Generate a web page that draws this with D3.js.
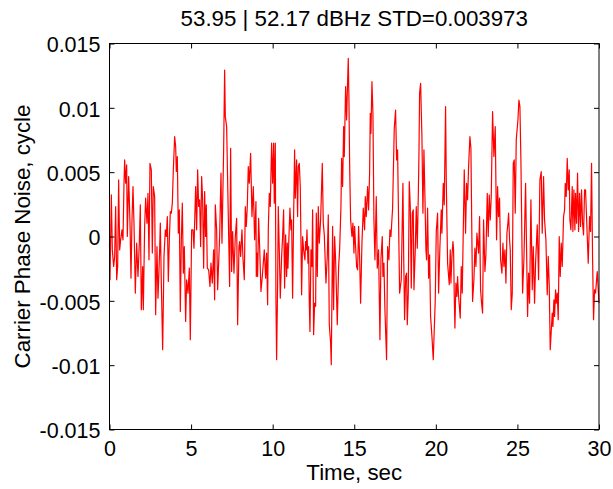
<!DOCTYPE html>
<html>
<head>
<meta charset="utf-8">
<script src="https://cdn.jsdelivr.net/npm/d3@7"></script>
<style>
  body { margin: 0; background: #fff; }
  svg text { font-family: "Liberation Sans", Arial, sans-serif; fill: #000; }
</style>
</head>
<body>
<svg id="chart" width="613" height="489"></svg>
<script>
// titolo e etichette
var titolo = "53.95 | 52.17 dBHz STD=0.003973";
var labelX = "Time, sec";
var labelY = "Carrier Phase Noise, cycle";

var xTicks = [0, 5, 10, 15, 20, 25, 30];
var yTicks = [-0.015, -0.01, -0.005, 0, 0.005, 0.01, 0.015];
var yTickLabels = ["-0.015", "-0.01", "-0.005", "0", "0.005", "0.01", "0.015"];

// tempi (sec)
var tempi = [
 0.000,0.031,0.112,0.173,0.255,0.316,0.378,0.439,0.500,0.561,0.623,0.684,0.766,0.827,0.888,0.929,0.990,1.052,1.092,1.174,
 1.256,1.317,1.378,1.440,1.501,1.582,1.664,1.746,1.827,1.889,1.950,2.032,2.073,2.154,2.215,2.297,2.358,2.420,2.481,2.563,
 2.624,2.685,2.767,2.828,2.910,2.971,
 3.013,3.074,3.115,3.176,3.258,3.340,3.422,3.483,3.544,3.605,3.667,3.728,3.789,3.850,3.912,3.993,4.055,4.095,4.157,4.218,
 4.279,4.340,4.402,4.463,4.524,4.585,4.667,4.728,4.810,4.892,4.953,5.035,5.116,5.178,5.218,5.280,5.341,5.402,5.463,5.525,
 5.586,5.647,5.708,5.770,5.831,5.892,5.933,5.994,
 6.076,6.158,6.219,6.301,6.383,6.444,6.485,6.566,6.628,6.689,6.750,6.832,6.893,6.995,7.056,7.097,7.179,7.281,7.363,7.424,
 7.485,7.547,7.628,7.710,7.792,7.853,7.935,7.975,8.037,8.118,8.180,8.261,8.323,8.384,8.445,8.506,8.568,8.649,8.731,8.813,
 8.894,8.976,
 8.997,9.038,9.078,9.140,9.201,9.283,9.364,9.426,9.487,9.568,9.630,9.691,9.732,9.793,9.854,9.936,9.997,10.059,10.099,10.161,
 10.201,10.242,10.304,10.344,10.406,10.467,10.549,10.610,10.671,10.732,10.794,10.855,10.896,10.937,10.998,11.059,11.120,11.161,11.222,11.284,
 11.345,11.386,11.468,11.529,11.570,11.631,11.692,11.774,11.835,11.896,11.978,
 12.020,12.061,12.102,12.163,12.204,12.245,12.286,12.347,12.408,12.449,12.510,12.571,12.633,12.674,12.735,12.796,12.857,12.939,13.041,13.102,
 13.164,13.204,13.266,13.347,13.409,13.470,13.552,13.592,13.674,13.735,13.797,13.858,13.960,14.042,14.103,14.185,14.225,14.287,14.348,14.389,
 14.471,14.532,14.573,14.634,14.675,14.716,14.777,14.859,14.920,14.981,
 15.022,15.083,15.145,15.206,15.267,15.328,15.390,15.471,15.553,15.635,15.676,15.737,15.818,15.880,15.941,15.982,16.023,16.084,16.145,16.206,
 16.268,16.349,16.411,16.492,16.574,16.635,16.717,16.758,16.819,16.880,16.982,17.044,17.125,17.187,17.248,17.350,17.452,17.534,17.595,17.656,
 17.779,17.881,17.983,
 18.025,18.086,18.148,18.209,18.250,18.311,18.372,18.434,18.495,18.556,18.617,18.658,18.740,18.801,18.862,18.924,18.964,19.005,19.067,19.148,
 19.209,19.271,19.332,19.393,19.434,19.495,19.557,19.618,19.679,19.761,19.842,19.965,20.026,20.108,20.169,20.251,20.333,20.373,20.455,20.516,
 20.598,20.639,20.721,20.823,20.884,20.925,20.986,
 21.048,21.088,21.129,21.170,21.231,21.293,21.333,21.395,21.497,21.558,21.619,21.742,21.823,21.885,21.946,22.007,22.089,22.150,22.252,22.334,
 22.395,22.457,22.518,22.620,22.681,22.742,22.804,22.865,22.926,23.008,23.069,23.151,23.212,23.273,23.335,23.396,23.478,23.559,23.641,23.723,
 23.784,23.845,23.906,23.968,
 24.051,24.112,24.173,24.234,24.296,24.357,24.418,24.459,24.520,24.561,24.622,24.684,24.745,24.806,24.867,24.929,25.031,25.092,25.153,25.214,
 25.317,25.398,25.439,25.500,25.562,25.623,25.684,25.745,25.827,25.909,25.970,26.052,26.113,26.215,26.297,26.378,26.460,26.521,26.603,26.664,
 26.746,26.828,26.889,26.950,27.011,
 27.134,27.175,27.236,27.277,27.338,27.379,27.441,27.502,27.563,27.624,27.686,27.747,27.828,27.890,27.931,27.992,28.053,28.114,28.176,28.216,
 28.278,28.359,28.400,28.462,28.523,28.564,28.625,28.686,28.747,28.809,28.870,28.931,28.992,29.054,29.115,29.176,29.340,29.421,29.483,29.544,
 29.605,29.666,29.728,29.789,29.891,30.000
];

// rumore di fase (cycle)
var rumore = [
 -0.00052,-0.00336,0.00324,-0.00104,-0.00233,-0.00155,0.00233,-0.00336,-0.00233,0.00440,-0.00104,-0.00026,0.00052,-0.00026,0.00414,0.00595,0.00414,0.00556,0.00000,0.00466,
 0.00104,-0.00324,0.00129,0.00388,0.00104,-0.00440,-0.00052,-0.00311,-0.00052,0.00246,-0.00569,-0.00233,-0.00569,0.00078,0.00298,0.00104,0.00336,-0.00181,0.00569,0.00518,
 -0.00129,0.00388,0.00311,-0.00608,-0.00078,-0.00479,
 -0.00336,-0.00104,0.00104,-0.00362,-0.00880,-0.00155,0.00052,0.00000,0.00155,-0.00349,-0.00026,0.00194,0.00181,0.00259,0.00518,0.00776,0.00699,0.00505,0.00621,0.00026,
 0.00207,-0.00582,-0.00026,0.00259,-0.00285,-0.00078,-0.00660,-0.00336,-0.00440,-0.00246,-0.00802,0.00052,0.00052,-0.00091,0.00104,0.00388,0.00052,0.00518,0.00233,0.00285,
 -0.00078,0.00466,0.00285,-0.00246,0.00349,0.00000,0.00246,-0.00246,
 -0.00259,-0.00388,-0.00207,-0.00362,-0.00104,-0.00492,0.00246,0.00052,-0.00414,-0.00207,0.00000,0.00492,-0.00052,0.00673,0.01294,0.00932,0.00854,0.00155,-0.00388,0.00686,
 -0.00272,0.00039,-0.00285,0.00000,0.00142,-0.00686,-0.00078,-0.00039,-0.00155,0.00052,-0.00168,-0.00336,0.00233,0.00078,0.00233,0.00543,0.00414,0.00647,0.00155,0.00388,
 -0.00026,0.00272,
 -0.00311,-0.00129,-0.00311,0.00142,-0.00078,-0.00427,-0.00311,-0.00207,-0.00104,-0.00324,-0.00129,-0.00531,0.00052,0.00336,0.00233,0.00725,0.00414,0.00725,0.00259,0.00725,
 -0.00492,-0.00958,-0.00362,0.00233,-0.00104,-0.00479,-0.00155,0.00000,0.00207,-0.00401,0.00013,-0.00311,-0.00052,-0.00246,0.00000,0.00220,0.00052,0.00129,-0.00479,0.00155,
 0.00673,0.00298,0.00595,0.00155,0.00543,0.00569,0.00388,-0.00453,0.00000,-0.00104,-0.00181,
 -0.00039,-0.00104,0.00052,-0.00207,-0.00078,-0.00518,-0.00738,-0.00104,-0.00233,0.00207,-0.00763,-0.00518,-0.00543,0.00181,-0.00311,0.00233,-0.00052,0.00129,0.00569,0.00104,
 0.00013,-0.00129,-0.00362,-0.00155,0.00168,-0.00686,-0.00828,-0.00996,0.00078,-0.00569,0.00000,-0.00181,-0.00686,-0.00233,-0.00104,0.00233,0.00608,0.00388,0.00854,0.00621,
 0.01165,0.00906,0.01113,0.01385,0.01061,0.00569,0.00129,0.00000,0.00104,-0.00129,
 0.00078,-0.00078,-0.00233,-0.00259,0.00078,-0.00155,-0.00518,-0.00052,0.00220,0.00052,0.00311,0.00155,0.00388,0.00207,0.00492,0.00958,0.00802,0.01203,0.00958,0.00129,
 -0.00181,0.00311,-0.00246,-0.00104,-0.00802,-0.00181,0.00000,-0.00311,-0.00207,-0.00569,-0.00958,-0.00078,-0.00181,0.00052,0.00000,0.00220,0.00841,0.00983,0.00595,0.00673,
 -0.00440,-0.00336,0.00414,
 -0.00104,-0.00647,-0.00311,-0.00285,-0.00686,-0.00440,0.00427,0.00233,-0.00401,0.00181,0.00207,-0.00414,-0.00104,0.00233,-0.00091,0.00311,0.00621,0.01113,0.01190,0.00776,
 0.00181,0.00673,0.00311,-0.00104,-0.00181,0.00220,-0.00324,-0.00142,-0.00621,-0.00776,-0.00958,-0.00492,0.00039,0.00181,-0.00440,-0.00078,0.00207,0.00026,0.00414,0.00246,
 0.01009,0.00440,-0.00207,-0.00375,-0.00104,-0.00362,-0.00155,
 -0.00039,-0.00104,-0.00466,-0.00712,-0.00362,-0.00466,-0.00311,-0.00466,-0.00634,-0.00233,-0.00440,0.00518,0.00026,0.00414,0.00285,0.00543,0.00776,0.00686,-0.00505,-0.00336,
 -0.00091,-0.00233,0.00026,-0.00129,0.00155,-0.00414,-0.00518,-0.00595,0.00129,-0.00272,-0.00142,0.00336,0.00000,0.00324,0.00129,0.00311,0.00970,0.00621,0.00854,-0.00026,
 0.00388,0.00155,0.00298,-0.00181,
 -0.00285,-0.00052,-0.00233,-0.00104,-0.00362,0.00026,0.00104,0.00181,-0.00026,-0.00104,-0.00569,-0.00440,0.00569,0.00595,0.00181,0.00751,0.00906,0.01061,0.01009,0.00595,
 -0.00440,-0.00181,0.00052,0.00414,-0.00104,-0.00621,-0.00285,-0.00518,0.00285,-0.00414,-0.00078,-0.00518,-0.00207,0.00091,-0.00336,0.00440,0.00505,0.00026,0.00466,0.00129,
 -0.00026,-0.00453,-0.00155,-0.00375,-0.00880,
 -0.00595,-0.00699,-0.00492,-0.00621,-0.00414,-0.00518,-0.00440,-0.00647,0.00000,-0.00311,-0.00052,-0.00233,0.00155,0.00207,0.00414,0.00311,0.00608,0.00362,0.00518,0.00129,
 0.00052,0.00388,0.00039,0.00362,0.00052,0.00336,0.00104,0.00492,0.00039,0.00336,0.00078,0.00362,0.00104,0.00013,0.00362,0.00362,-0.00207,0.00155,0.00039,0.00569,
 -0.00155,-0.00647,-0.00414,-0.00440,-0.00272,-0.00518
];

var svg = d3.select("#chart");
var margin = {left: 109.5, top: 43.5, right: 14, bottom: 59.5};
var larg = 599 - margin.left;
var alt = 429.5 - margin.top;

var x = d3.scaleLinear().domain([0, 30]).range([0, larg]);
var y = d3.scaleLinear().domain([-0.015, 0.015]).range([alt, 0]);

var g = svg.append("g")
    .attr("transform", "translate(" + margin.left + "," + margin.top + ")");

// linea rossa
var linea = d3.line()
    .x(function(d) { return x(d[0]); })
    .y(function(d) { return y(d[1]); });

g.append("path")
    .datum(d3.zip(tempi, rumore))
    .attr("d", linea)
    .attr("fill", "none")
    .attr("stroke", "#ff0000")
    .attr("stroke-width", 1.2)
    .attr("stroke-linejoin", "round");

// assi stile matlab, tick verso l'interno
var fontTick = "21.5px";
var fontLabel = "22.3px";

g.append("g")
    .attr("transform", "translate(0," + alt + ")")
    .call(d3.axisBottom(x).tickValues(xTicks).tickSizeInner(-5).tickSizeOuter(0).tickPadding(11));

g.append("g")
    .attr("class", "asseY")
    .call(d3.axisLeft(y).tickValues(yTicks).tickSizeInner(-5).tickSizeOuter(0).tickPadding(9)
        .tickFormat(function(d, i) { return yTickLabels[i]; }));

g.append("g")
    .call(d3.axisTop(x).tickValues(xTicks).tickSizeInner(-5).tickSizeOuter(0).tickFormat(""));

g.append("g")
    .attr("transform", "translate(" + larg + ",0)")
    .call(d3.axisRight(y).tickValues(yTicks).tickSizeInner(-5).tickSizeOuter(0).tickFormat(""));

g.selectAll(".domain").remove();
g.selectAll(".tick line").attr("stroke", "#000");
g.selectAll(".tick text")
    .style("font-size", fontTick)
    .style("font-family", "'Liberation Sans', Arial, sans-serif")
    .attr("fill", "#000");
g.selectAll(".asseY .tick text").attr("dy", "0.38em");

// cornice
g.append("rect")
    .attr("x", 0).attr("y", 0)
    .attr("width", larg).attr("height", alt)
    .attr("fill", "none")
    .attr("stroke", "#000")
    .attr("stroke-width", 1);

// testi
svg.append("text")
    .attr("x", margin.left + larg / 2)
    .attr("y", 26)
    .attr("text-anchor", "middle")
    .style("font-size", fontLabel)
    .text(titolo);

svg.append("text")
    .attr("x", margin.left + larg / 2)
    .attr("y", 480)
    .attr("text-anchor", "middle")
    .style("font-size", fontLabel)
    .text(labelX);

svg.append("text")
    .attr("transform", "translate(30," + (margin.top + alt / 2) + ") rotate(-90)")
    .attr("text-anchor", "middle")
    .style("font-size", fontLabel)
    .text(labelY);
</script>
</body>
</html>
